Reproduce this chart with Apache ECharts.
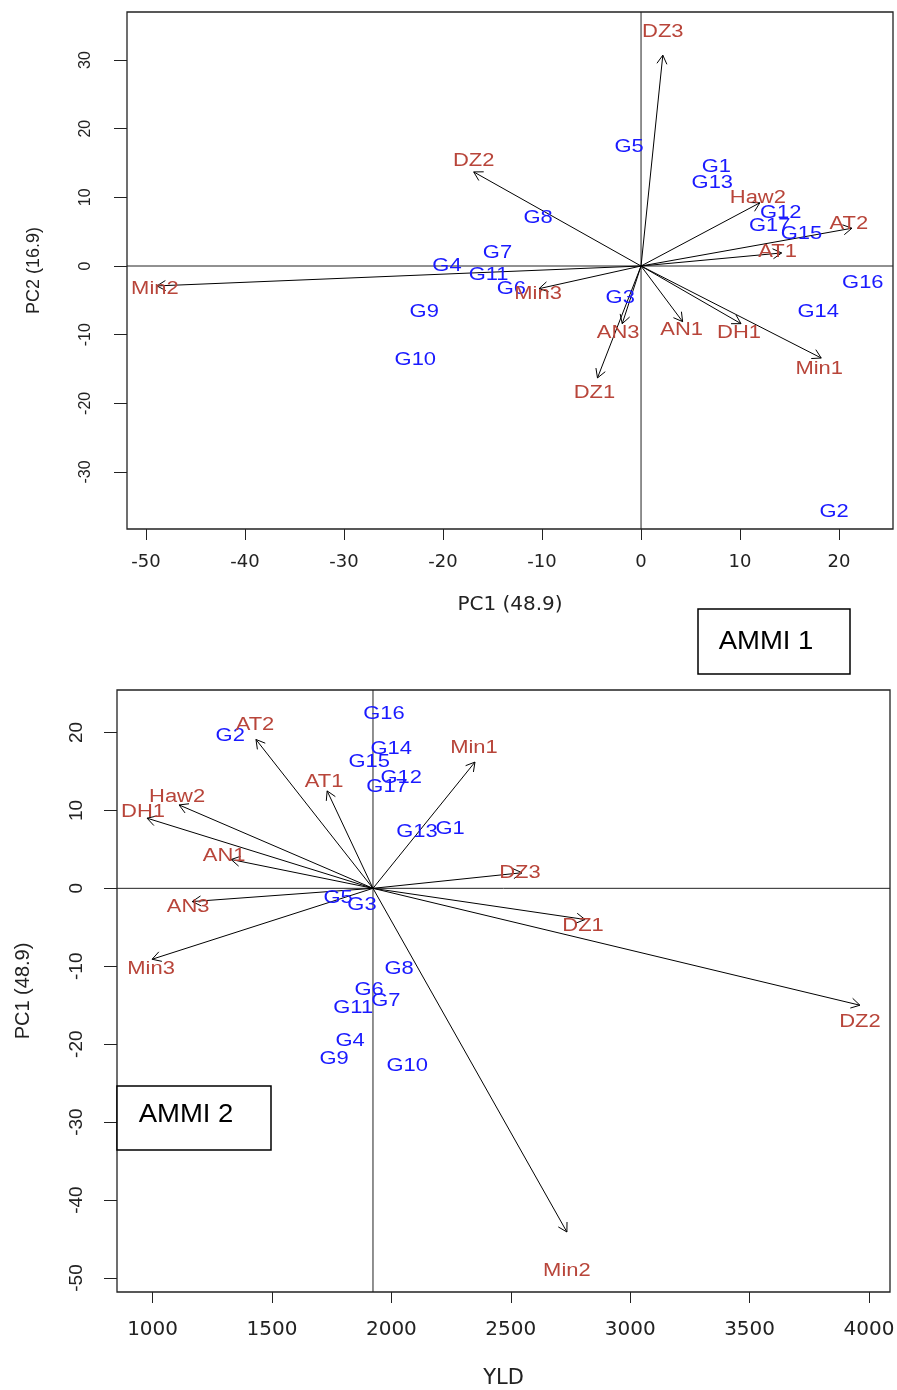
<!DOCTYPE html>
<html><head><meta charset="utf-8">
<script src="https://cdn.jsdelivr.net/npm/echarts@6/dist/echarts.min.js"></script>
<style>html,body{margin:0;padding:0;background:#fff}#c{width:897px;height:1390px}</style>
</head><body><div id="c"></div>
<script>
// ---------- DATA ----------
const genotypes = ['G1','G2','G3','G4','G5','G6','G7','G8','G9','G10','G11','G12','G13','G14','G15','G16','G17'];
const genoPC1 = [7.6, 19.5, -2.1, -19.6, -1.2, -13.1, -14.5, -10.4, -21.9, -22.8, -15.4, 14.1, 7.2, 17.9, 16.2, 22.4, 13.0];
const genoPC2 = [14.4, -35.8, -4.7, 0.0, 17.3, -3.3, 1.9, 7.0, -6.7, -13.7, -1.3, 7.7, 12.1, -6.7, 4.7, -2.5, 5.8];
const genoYLD = [2246, 1325, 1877, 1827, 1777, 1907, 1977, 2032, 1760, 2066, 1840, 2041, 2107, 1999, 1907, 1969, 1982];

const envs = ['DZ1','DZ2','DZ3','AN1','AN3','AT1','AT2','DH1','Haw2','Min1','Min2','Min3'];
// AMMI 1 biplot (PC1 vs PC2) arrow tips
const envPC1a = [-4.4, -16.9, 2.2, 4.2, -1.9, 14.2, 21.3, 10.1, 12.0, 18.2, -48.9, -10.3];
const envPC2a = [-16.3, 13.7, 30.7, -8.1, -8.4, 1.9, 5.5, -8.4, 9.2, -13.4, -2.9, -3.3];
// AMMI 2 biplot (YLD vs PC1) arrow tips
const envYLDb = [2811, 3962, 2547, 1329, 1166, 1731, 1433, 977, 1111, 2350, 2735, 998];
const envPC1b = [-4.0, -15.0, 2.0, 3.7, -1.7, 12.5, 19.1, 9.0, 10.7, 16.2, -44.1, -9.1];
const meanYLD = 1923;

const ticks1X = [-50, -40, -30, -20, -10, 0, 10, 20];
const ticks1Y = [-30, -20, -10, 0, 10, 20, 30];
const ticks2X = [1000, 1500, 2000, 2500, 3000, 3500, 4000];
const ticks2Y = [-50, -40, -30, -20, -10, 0, 10, 20];

// ---------- LAYOUT / STYLE ----------
const ax1 = {xmin: -51.92, xmax: 25.45, ymin: -38.3, ymax: 36.99};
const ax2 = {xmin: 851, xmax: 4088, ymin: -51.8, ymax: 25.45};
const envOffA = [[-3,15],[0,-11],[0,-23],[-1,8],[-4,9],[-4,-1],[-3,-4],[-2,9],[-2,-5],[-2,11],[-2,3],[-1,5]];
const envOffB = [[-2,7],[0,17],[-2,0],[-7,-3],[-4,5],[-3,-9],[-1,-14],[-4,-6],[-2,-8],[-1,-14],[0,39],[-1,10]];
const BLUE = '#1a1aff', RED = '#b8453a';

function arrowSeries(xi, yi, data) {
  return {
    type: 'custom', xAxisIndex: xi, yAxisIndex: yi, data: data, silent: true, clip: false,
    encode: {x: [0, 2], y: [1, 3]}, z: 3,
    renderItem: function (params, api) {
      const p0 = api.coord([api.value(0), api.value(1)]);
      const p1 = api.coord([api.value(2), api.value(3)]);
      const ang = Math.atan2(p1[1] - p0[1], p1[0] - p0[0]);
      const L = 10, a = Math.PI / 6;
      const h1 = [p1[0] - L * Math.cos(ang - a), p1[1] - L * Math.sin(ang - a)];
      const h2 = [p1[0] - L * Math.cos(ang + a), p1[1] - L * Math.sin(ang + a)];
      return {type: 'group', children: [
        {type: 'line', shape: {x1: p0[0], y1: p0[1], x2: p1[0], y2: p1[1]}, style: {stroke: '#000', lineWidth: 1}},
        {type: 'polyline', shape: {points: [h1, p1, h2]}, style: {stroke: '#000', fill: null, lineWidth: 1}}
      ]};
    }
  };
}

function textSeries(xi, yi, data, names, offs, color) {
  return {
    type: 'custom', xAxisIndex: xi, yAxisIndex: yi, data: data, silent: true, clip: false,
    encode: {x: 0, y: 1}, z: 5,
    renderItem: function (params, api) {
      const p = api.coord([api.value(0), api.value(1)]);
      const o = offs ? offs[params.dataIndex] : [0, 0];
      return {type: 'text', x: p[0] + o[0], y: p[1] + o[1], scaleX: 1.22,
        style: {text: names[params.dataIndex], fill: color, fontSize: 18, fontFamily: 'Liberation Sans',
          align: 'center', verticalAlign: 'middle'}};
    }
  };
}

function refLine(xi, yi, pts) {
  return {type: 'line', xAxisIndex: xi, yAxisIndex: yi, data: pts, symbol: 'none', silent: true,
    lineStyle: {color: '#222', width: 1}, z: 2, animation: false};
}

const plain = function (v) { return String(v); };

function xAxisCfg(gi, ax, ticks, name, gap, margin, fs, nfs) {
  return {gridIndex: gi, type: 'value', min: ax.xmin, max: ax.xmax, position: 'bottom',
    splitLine: {show: false}, axisLine: {show: false, onZero: false},
    axisTick: {show: true, inside: false, length: 11, customValues: ticks, lineStyle: {color: '#222'}},
    axisLabel: {customValues: ticks, formatter: plain, margin: margin, fontFamily: 'DejaVu Sans', fontSize: fs, color: '#222'},
    name: name, nameLocation: 'middle', nameGap: gap,
    nameTextStyle: {fontFamily: 'DejaVu Sans', fontSize: nfs, color: '#222'}};
}
function yAxisCfg(gi, ax, ticks, name, gap, margin, fs, nfs) {
  return {gridIndex: gi, type: 'value', min: ax.ymin, max: ax.ymax, position: 'left',
    splitLine: {show: false}, axisLine: {show: false, onZero: false},
    axisTick: {show: true, inside: false, length: 13, customValues: ticks, lineStyle: {color: '#222'}},
    axisLabel: {customValues: ticks, formatter: plain, margin: margin, rotate: 90, fontFamily: 'Liberation Sans', fontSize: fs, color: '#222'},
    name: name, nameLocation: 'middle', nameGap: gap, nameRotate: 90,
    nameTextStyle: {fontFamily: 'Liberation Sans', fontSize: nfs, color: '#222'}};
}

const chart = echarts.init(document.getElementById('c'), null, {renderer: 'canvas'});

const arrowsA = envs.map((e, i) => [0, 0, envPC1a[i], envPC2a[i]]);
const arrowsB = envs.map((e, i) => [meanYLD, 0, envYLDb[i], envPC1b[i]]);
const envPtsA = envs.map((e, i) => [envPC1a[i], envPC2a[i]]);
const envPtsB = envs.map((e, i) => [envYLDb[i], envPC1b[i]]);
const genoPtsA = genotypes.map((g, i) => [genoPC1[i], genoPC2[i]]);
const genoPtsB = genotypes.map((g, i) => [genoYLD[i], genoPC1[i]]);

chart.setOption({
  animation: false,
  backgroundColor: '#fff',
  grid: [
    {left: 127, top: 12, width: 766, height: 517, show: true, borderColor: '#222', borderWidth: 1.3, backgroundColor: 'transparent', containLabel: false, outerBoundsMode: 'none'},
    {left: 117, top: 690, width: 773, height: 602, show: true, borderColor: '#222', borderWidth: 1.3, backgroundColor: 'transparent', containLabel: false, outerBoundsMode: 'none'}
  ],
  xAxis: [
    xAxisCfg(0, ax1, ticks1X, 'PC1 (48.9)', 66, 24, 18, 20),
    xAxisCfg(1, ax2, ticks2X, 'YLD', 76, 28, 20, 21)
  ],
  yAxis: [
    yAxisCfg(0, ax1, ticks1Y, 'PC2 (16.9)', 84, 33, 16, 18),
    yAxisCfg(1, ax2, ticks2Y, 'PC1 (48.9)', 84, 31, 19, 20)
  ],
  series: [
    refLine(0, 0, [[ax1.xmin, 0], [ax1.xmax, 0]]),
    refLine(0, 0, [[0, ax1.ymin], [0, ax1.ymax]]),
    refLine(1, 1, [[ax2.xmin, 0], [ax2.xmax, 0]]),
    refLine(1, 1, [[meanYLD, ax2.ymin], [meanYLD, ax2.ymax]]),
    arrowSeries(0, 0, arrowsA),
    arrowSeries(1, 1, arrowsB),
    textSeries(0, 0, genoPtsA, genotypes, null, BLUE),
    textSeries(0, 0, envPtsA, envs, envOffA, RED),
    textSeries(1, 1, genoPtsB, genotypes, null, BLUE),
    textSeries(1, 1, envPtsB, envs, envOffB, RED)
  ],
  graphic: [
    {type: 'rect', z: 100, shape: {x: 698, y: 609, width: 152, height: 65}, style: {fill: '#fff', stroke: '#000', lineWidth: 1.5}},
    {type: 'text', z: 101, x: 766, y: 642, scaleX: 1.1, style: {text: 'AMMI 1', fontFamily: 'Liberation Sans', fontSize: 25, fill: '#000', align: 'center', verticalAlign: 'middle'}},
    {type: 'rect', z: 100, shape: {x: 117, y: 1086, width: 154, height: 64}, style: {fill: '#fff', stroke: '#000', lineWidth: 1.5}},
    {type: 'text', z: 101, x: 186, y: 1115, scaleX: 1.1, style: {text: 'AMMI 2', fontFamily: 'Liberation Sans', fontSize: 25, fill: '#000', align: 'center', verticalAlign: 'middle'}}
  ]
});
</script>
</body></html>
